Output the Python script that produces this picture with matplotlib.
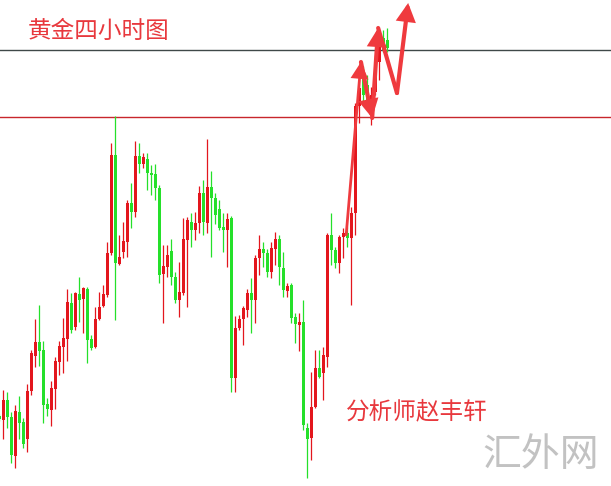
import matplotlib
matplotlib.use("Agg")
import matplotlib.pyplot as plt
import numpy as np

# ---- data (price units) ----
opens = [70, 66, 86, 69, 30, 74, 64, 47, 95, 130, 144, 136, 82, 76, 97, 124, 139, 147, 183, 159,
         192, 187, 197, 147, 139, 167, 180, 191, 233, 331, 222, 234, 244, 283, 274, 330, 322, 327, 313, 312,
         298, 212, 219, 235, 209, 186, 193, 246, 264, 256, 263, 293, 263, 299, 288, 277, 259, 256, 268, 108,
         158, 167, 176, 193, 186, 228, 237, 233, 214, 237, 247, 218, 195, 201, 169, 161, 164, 58, 48, 79,
         118, 113, 129, 251, 236, 223, 249, 253, 248, 273, 380, 414, 401, 376, 394, 424, 448, 446]
highs = [72, 96, 94, 74, 81, 90, 68, 102, 136, 167, 181, 145, 88, 105, 129, 145, 168, 197, 193, 194,
         209, 199, 199, 151, 179, 194, 201, 244, 343, 370, 251, 264, 286, 303, 345, 343, 333, 333, 321, 322,
         301, 241, 241, 247, 214, 224, 268, 269, 273, 274, 300, 306, 347, 315, 293, 286, 273, 273, 270, 170,
         171, 180, 197, 208, 231, 251, 244, 237, 244, 254, 251, 234, 203, 203, 173, 173, 186, 63, 114, 136,
         136, 139, 253, 273, 239, 251, 258, 259, 279, 383, 406, 420, 411, 399, 431, 456, 456, 458]
lows = [65, 47, 58, 23, 18, 47, 38, 34, 91, 119, 120, 63, 70, 60, 77, 111, 113, 125, 153, 156,
        164, 153, 123, 136, 138, 166, 179, 189, 231, 166, 221, 228, 229, 258, 269, 313, 318, 296, 291, 286,
        203, 163, 209, 201, 183, 169, 191, 179, 239, 246, 253, 251, 253, 229, 262, 256, 234, 219, 94, 94,
        156, 141, 169, 153, 163, 211, 219, 209, 208, 221, 201, 189, 189, 163, 143, 135, 56, 8, 26, 78,
        108, 86, 119, 221, 218, 213, 228, 239, 181, 251, 363, 383, 380, 361, 391, 406, 434, 434]
closes = [67, 86, 69, 31, 75, 63, 42, 95, 133, 144, 135, 81, 77, 98, 125, 140, 148, 184, 156, 193,
          186, 198, 146, 138, 167, 179, 192, 233, 331, 223, 229, 245, 283, 274, 330, 322, 329, 313, 311, 298,
          211, 220, 231, 209, 186, 194, 247, 266, 256, 263, 293, 264, 299, 288, 271, 258, 256, 267, 108, 158,
          167, 178, 193, 186, 228, 237, 233, 214, 238, 247, 219, 196, 200, 168, 162, 164, 61, 47, 79, 118,
          109, 131, 251, 236, 223, 249, 253, 248, 273, 380, 398, 391, 386, 391, 424, 446, 436, 438]

resistance_level = 436
support_level = 369

# zig-zag forecast path (candle index, price)
path_idx = [86.7, 90.4, 93.2, 94.7, 99.4, 102.2]
path_price = [251, 424, 368, 458, 393, 483]
path_heads = [True, True, True, False, True]

title_text = "黄金四小时图"
analyst_text = "分析师赵丰轩"
watermark_text = "汇外网"

# ---- styling ----
plt.rcParams['font.family'] = ['Noto Sans CJK SC', 'DejaVu Sans']
UP = "#e3161d"
DOWN = "#25e02a"
TEXT_RED = "#e8383d"

W, H, DPI = 611, 486, 100
fig = plt.figure(figsize=(W / DPI, H / DPI), dpi=DPI, facecolor="white")
ax = fig.add_axes([0, 0, 1, 1])
ax.set_facecolor("white")
ax.set_axis_off()

x = np.arange(len(opens))
o = np.array(opens, float); c = np.array(closes, float)
h = np.array(highs, float); l = np.array(lows, float)
up = c >= o
colors = np.where(up, UP, DOWN)

ax.axhline(resistance_level, color="#3f4848", lw=1.0, zorder=1)
ax.axhline(support_level, color="#c8262c", lw=1.0, zorder=1)

ax.vlines(x, l, h, colors=colors, lw=0.9, zorder=2)
bottom = np.minimum(o, c)
height = np.maximum(np.abs(c - o), 1.5)
ax.bar(x, height, bottom=bottom, width=0.75, color=colors, linewidth=0, zorder=3)

ARROW = "#ef3a3e"
for k in range(len(path_idx) - 1):
    p0 = (path_idx[k], path_price[k])
    p1 = (path_idx[k + 1], path_price[k + 1])
    style = "-|>,head_length=0.75,head_width=0.4" if path_heads[k] else "-"
    lw = 2.0 if k == 0 else 3.0
    ax.annotate("", xy=p1, xytext=p0,
                arrowprops=dict(arrowstyle=style, color=ARROW, lw=lw,
                                shrinkA=0, shrinkB=0, mutation_scale=12,
                                joinstyle="miter", capstyle="round"),
                zorder=4)

ax.set_xlim(0.175, 152.9)
ax.set_ylim(0, 486)

fig.text(28 / W, 1 - 31 / H, title_text, color=TEXT_RED, fontsize=17,
         ha="left", va="center")
fig.text(346 / W, 1 - 412 / H, analyst_text, color=TEXT_RED, fontsize=17,
         ha="left", va="center")
fig.text(482 / W, 1 - 455 / H, watermark_text, color="#c2c2c2", fontsize=28,
         ha="left", va="center")

fig.savefig("out.png", dpi=DPI, facecolor="white")
